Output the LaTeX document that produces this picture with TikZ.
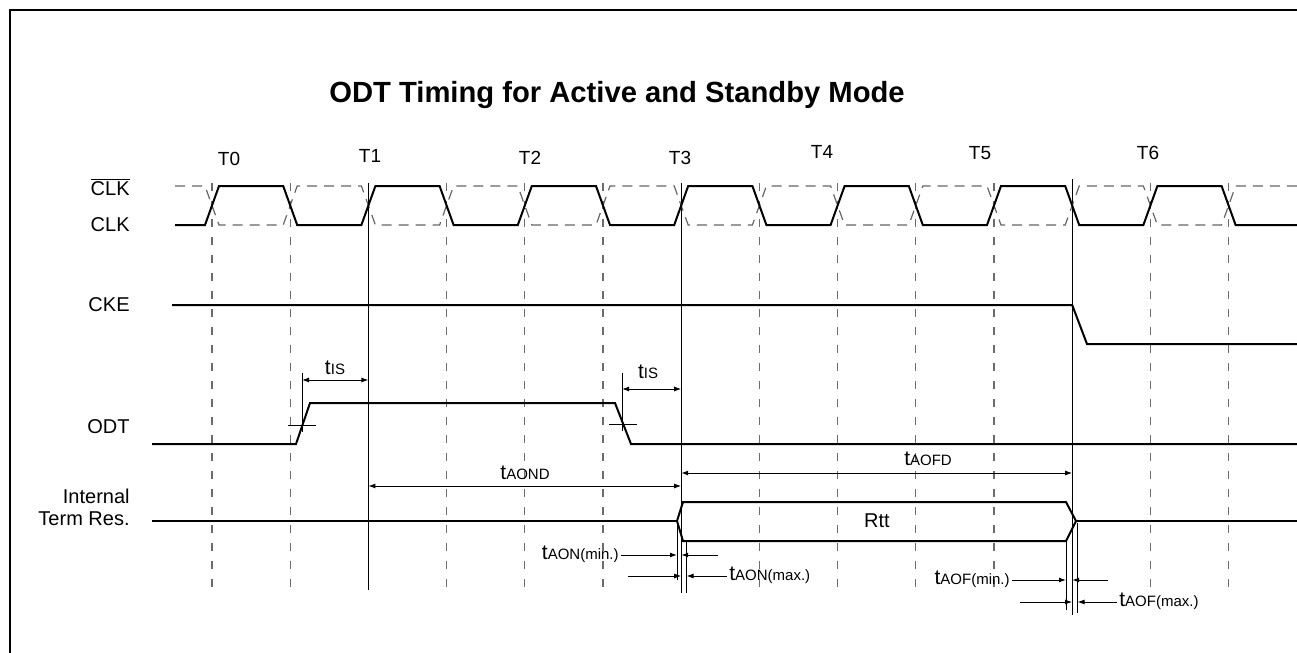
\documentclass[tikz,border=0pt]{standalone}
\usepackage{fontspec}
\setmainfont{Liberation Sans}
\usetikzlibrary{arrows.meta}

\newcommand{\tsub}[2]{{\fontsize{10.5}{12}\selectfont #1}{\fontsize{7.5}{8}\selectfont #2}}

\begin{document}
\begin{tikzpicture}[x=0.5pt,y=-0.5pt,
    signal/.style={line width=1pt, line join=miter},
    guide/.style={gray!85!black, line width=0.6pt, dash pattern=on 4pt off 5pt},
    clkbar/.style={gray!80!black, line width=0.6pt, dash pattern=on 5pt off 3.5pt},
    refline/.style={line width=0.5pt},
    dimline/.style={line width=0.5pt, {Latex[length=3.5pt,width=2.5pt]}-{Latex[length=3.5pt,width=2.5pt]}},
    oneway/.style={line width=0.5pt, -{Latex[length=3.5pt,width=2.5pt]}},
    every node/.style={font=\fontsize{10}{11}\selectfont, inner sep=1pt}]
  \useasboundingbox (0,0) rectangle (1297,653);

  % frame and title
  \draw[line width=0.8pt] (10,653) -- (10,10) -- (1297,10);
  \node[font=\bfseries\fontsize{14.6}{17}\selectfont] (title) at (617,95)
    {ODT Timing for Active and Standby Mode};

  % clock crossing points
  \foreach \k in {0,...,13}
    \coordinate (c\k) at ({212+78.2*\k},183);

  % cycle labels
  \foreach \n/\x/\y in {0/229/159,1/370/156,2/530/158,3/680/158,4/822/152,5/980/153,6/1148/153}
    \node[font=\fontsize{9.5}{11}\selectfont] (T\n) at (\x,\y) {T\n};

  % guide lines
  \foreach \k in {0,1,3,4,5,7,8,9,10,12,13}
    \draw[guide] (c\k) -- ++(0,407);
  \draw[refline] (c2) -- ++(0,407);
  \draw[refline] (c6) -- ++(0,410);
  \draw[refline] (c11) ++(0,-4) -- ++(0,436);

  % signal names
  \node[anchor=east] (clkb) at (132,187) {$\overline{\mbox{CLK}}$};
  \node[anchor=east] (clk) at (132,225) {CLK};
  \node[anchor=east] (cke) at (132,305) {CKE};
  \node[anchor=east] (odt) at (132,427) {ODT};
  \node[anchor=east, align=right] (itr) at (132,507) {Internal\\Term Res.};

  % CLK and /CLK
  \draw[clkbar] (175,186) \foreach \k in {0,2,...,12} {
      -- ({212+78.2*\k-7},186) -- ({212+78.2*\k+7},225)
      -- ({212+78.2*(\k+1)-7},225) -- ({212+78.2*(\k+1)+7},186) } -- (1297,186);
  \draw[signal] (175,225) \foreach \k in {0,2,...,12} {
      -- ({212+78.2*\k-7},225) -- ({212+78.2*\k+7},186)
      -- ({212+78.2*(\k+1)-7},186) -- ({212+78.2*(\k+1)+7},225) } -- (1297,225);

  % CKE
  \draw[signal] (172,305) -- (c11 |- 0,305) -- (1087,344) -- (1297,344);

  % ODT
  \draw[signal] (152,444) -- (296,444) -- (310,403) -- (615,403) -- (631,444) -- (1297,444);
  \draw[refline] (288,425) -- (316,425) (302,373) -- (302,432);
  \draw[refline] (609,424) -- (637,424) (622,373) -- (622,431);
  \coordinate (odtrise) at (302,380);
  \coordinate (odtfall) at (622,389);
  \draw[dimline] (odtrise) -- (c2 |- odtrise);
  \node (tis1) at (335,368) {\tsub{t}{IS}};
  \draw[dimline] (odtfall) -- (c6 |- odtfall);
  \node (tis2) at (648,372) {\tsub{t}{IS}};

  % tAOND, tAOFD
  \draw[dimline] (c2 |- 0,486) -- (c6 |- 0,486);
  \node (aond) at (525,473) {\tsub{t}{AOND}};
  \draw[dimline] (c6 |- 0,473) -- (c11 |- 0,473);
  \node (aofd) at (928,459) {\tsub{t}{AOFD}};

  % internal termination
  \draw[signal] (152,521) -- (677,521);
  \draw[signal] (677,521) -- (683,502) -- (1066,502) -- (1076,521) -- (1066,541) -- (683,541) -- cycle;
  \draw[signal] (1076,521) -- (1297,521);
  \node (rtt) at (877,521) {Rtt};

  % turn-on / turn-off windows
  \draw[refline] (677,521) -- (677,580);
  \draw[refline] (686.5,541) -- (686.5,593);
  \draw[refline] (1066,541) -- (1066,610);
  \draw[refline] (1077.5,523) -- (1077.5,613);

  \node[anchor=east] (aonmin) at (621,554) {\tsub{t}{AON(min.)}};
  \draw[oneway] (aonmin.east |- 0,555) -- (677,555);
  \draw[oneway] (718,555) -- (c6 |- 0,555);
  \node[anchor=west] (aonmax) at (727,575) {\tsub{t}{AON(max.)}};
  \draw[oneway] (628,576) -- (c6 |- 0,576);
  \draw[oneway] (aonmax.west |- 0,576) -- (686.5,576);

  \node[anchor=east] (aofmin) at (1012,579) {\tsub{t}{AOF(min.)}};
  \draw[oneway] (aofmin.east |- 0,580) -- (1066,580);
  \draw[oneway] (1108,580) -- (c11 |- 0,580);
  \node[anchor=west] (aofmax) at (1117,601) {\tsub{t}{AOF(max.)}};
  \draw[oneway] (1020,602) -- (c11 |- 0,602);
  \draw[oneway] (aofmax.west |- 0,602) -- (1077.5,602);
\end{tikzpicture}
\end{document}
